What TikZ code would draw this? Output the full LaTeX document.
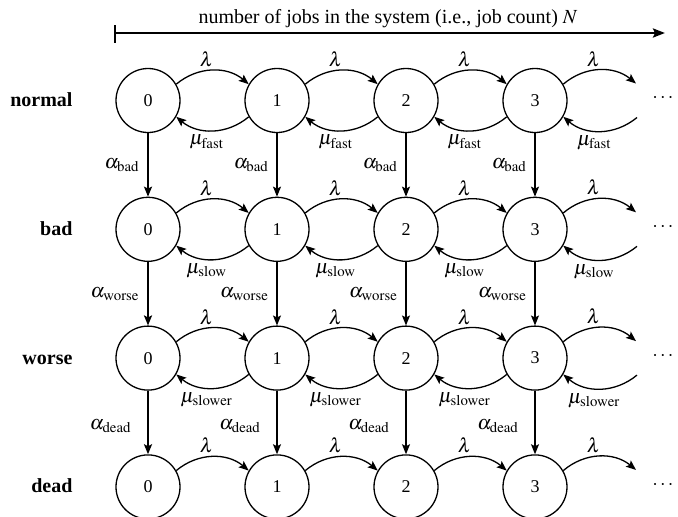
\documentclass[tikz,border=0pt]{standalone}
\usepackage{mathptmx}
\usepackage{fontspec}
\setmainfont{Liberation Serif}
\newfontfamily\tms{Liberation Serif}
\usetikzlibrary{arrows.meta}
\begin{document}
\begin{tikzpicture}[x=1pt,y=-1pt,
  font=\tms\fontsize{20}{24}\selectfont,
  state/.style={circle,draw,line width=1.3pt,minimum size=64pt,inner sep=0pt,font=\tms\fontsize{18}{20}\selectfont},
  rowlab/.style={anchor=base east,font=\tms\fontsize{20}{24}\selectfont\bfseries},
  tip/.style={-{Stealth[length=10pt,width=8pt,inset=2pt]}},
  tr/.style={tip,line width=1.3pt},
  down/.style={tip,line width=1.3pt},
  downthick/.style={tip,line width=2pt},
  lam/.style={midway,above=2pt,inner sep=1pt,xshift=-6pt},
  mu/.style={midway,below=4pt,inner sep=0pt,xshift=-6pt},
  alab/.style={anchor=east,inner sep=0pt}
]
\useasboundingbox (0,0) rectangle (678,517);

% header axis
\coordinate (hs) at (115,33);
\coordinate (he) at (665,33);
\coordinate (ht) at (115,25);
\coordinate (hb) at (115,43);
\draw[line width=2.5pt,-{Stealth[length=12pt,width=9pt,inset=2pt]}] (hs) -- (he);
\draw[line width=2.5pt] (ht) -- (hb);
\node[anchor=base] (title) at (388,23) {number of jobs in the system (i.e., job count) $N$};

% rows
\foreach \r/\y/\name in {0/100.5/normal,1/229.3/bad,2/358.1/worse,3/486.9/dead}{
  \node[rowlab] (lab\r) at (76,\y+6) {\name};
  \foreach \c/\x in {0/148,1/277,2/406,3/535}
    \node[state] (s\r\c) at (\x,\y) {\c};
  \node (dots\r) at (663,\y-2) {$\cdots$};
  \coordinate (ea\r) at (636,\y-17);
  \coordinate (eb\r) at (637,\y+17);
  \foreach \c/\d in {0/1,1/2,2/3}
    \draw[tr] (s\r\c.30) to[bend left=40] node[lam] {$\lambda$} (s\r\d.150);
  \draw[tr] (s\r3.30) to[bend left=40] node[lam] {$\lambda$} (ea\r);
}

% service arcs
\foreach \r/\sub in {0/fast,1/slow,2/slower}{
  \foreach \c/\d in {0/1,1/2,2/3}
    \draw[tr] (s\r\d.210) to[bend left=40] node[mu] {$\mu_{\mathrm{\sub}}$} (s\r\c.330);
  \draw[tr] (eb\r) to[bend left=40] node[mu] {$\mu_{\mathrm{\sub}}$} (s\r3.330);
}

% degradation arrows
\foreach \r/\n/\sub/\gap/\dy in {0/1/bad/8/0,1/2/worse/8/0,2/3/dead/16/4}{
  \draw[downthick] (s\r0) -- (s\n0) node[midway,alab,xshift=-\gap pt,yshift=-\dy pt] (a\r0) {$\alpha_{\mathrm{\sub}}$};
  \foreach \c in {1,2,3}
    \draw[down] (s\r\c) -- (s\n\c) node[midway,alab,xshift=-\gap pt,yshift=-\dy pt] (a\r\c) {$\alpha_{\mathrm{\sub}}$};
}
\end{tikzpicture}
\end{document}
